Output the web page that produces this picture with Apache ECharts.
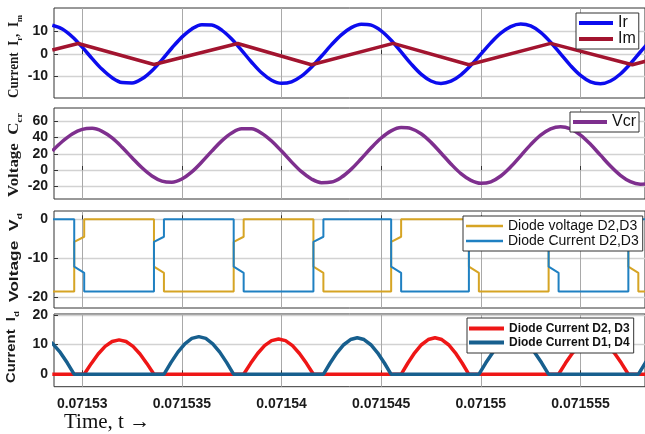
<!DOCTYPE html>
<html><head><meta charset="utf-8">
<script src="https://cdn.jsdelivr.net/npm/echarts@6/dist/echarts.min.js"></script>
<style>html,body{margin:0;padding:0;background:#fff;}#c{width:645px;height:434px;}</style>
</head><body><div id="c"></div>
<script>
// ---------- data ----------
const xTickValues = [0.07153, 0.071535, 0.07154, 0.071545, 0.07155, 0.071555];
const yTicks1 = [-10, 0, 10];
const yTicks2 = [-20, 0, 20, 40, 60];
const yTicks3 = [-20, -10, 0];
const yTicks4 = [0, 10, 20];

const timeSamples = [0.0715285,0.071529,0.0715295,0.07153,0.0715305,0.071531,0.0715315,0.071532,0.0715325,0.071533,
0.0715335,0.071534,0.0715345,0.071535,0.0715355,0.071536,0.0715365,0.071537,0.0715375,0.071538,
0.0715385,0.071539,0.0715395,0.07154,0.0715405,0.071541,0.0715415,0.071542,0.0715425,0.071543,
0.0715435,0.071544,0.0715445,0.071545,0.0715455,0.071546,0.0715465,0.071547,0.0715475,0.071548,
0.0715485,0.071549,0.0715495,0.07155,0.0715505,0.071551,0.0715515,0.071552,0.0715525,0.071553,
0.0715535,0.071554,0.0715545,0.071555,0.0715555,0.071556,0.0715565,0.071557,0.0715575,0.071558,0.0715585];

const irValues = [12.85,11.13,7.70,3.09,-1.99,-6.76,-10.50,-12.64,-12.83,-10.98,
-7.35,-2.52,2.72,7.56,11.21,13.11,12.94,10.68,6.72,1.67,
-3.62,-8.31,-11.59,-12.97,-12.30,-9.78,-5.80,-0.94,4.09,8.56,
11.79,13.31,12.86,10.34,6.15,0.98,-4.32,-8.88,-11.93,-13.0,
-12.0,-9.19,-4.97,0.0,5.0,9.30,12.24,13.39,12.52,9.67,
5.29,0.1,-5.10,-9.47,-12.32,-13.19,-11.96,-8.82,-4.29,0.95,6.04];

const vcrValues = [23.57,35.2,44.5,50.1,51.36,47.68,39.51,28.09,15.14,2.66,
-7.40,-13.68,-15.05,-11.09,-2.33,9.81,23.31,35.96,45.67,50.89,
50.75,45.44,35.81,23.36,10.03,-2.09,-11.09,-15.64,-14.93,-9.05,
1.08,13.91,27.40,39.44,48.24,52.3,51.06,44.65,34.08,21.01,
7.48,-4.46,-12.78,-16.42,-14.56,-7.41,3.88,17.51,31.31,43.01,
50.86,53.5,50.71,43.05,31.69,18.28,4.83,-6.63,-14.46,-17.5,-16.8];

const imTimes = [0.0715285,0.0715298,0.0715336,0.0715378,0.0715415,0.0715456,0.0715494,0.0715535,0.0715576,0.0715585];
const imValues = [1.8,4.7,-4.6,4.7,-4.7,4.8,-4.7,4.8,-4.7,-2.6];

const vdTimes = [0.0715285,
0.0715296,0.0715296,0.0715301,0.0715301,
0.0715336,0.0715336,0.0715341,0.0715341,
0.0715376,0.0715376,0.0715381,0.0715381,
0.0715416,0.0715416,0.0715421,0.0715421,
0.0715455,0.0715455,0.071546,0.071546,
0.0715494,0.0715494,0.0715499,0.0715499,
0.0715534,0.0715534,0.0715539,0.0715539,
0.0715574,0.0715574,0.0715579,0.0715579,
0.0715585];
const diodeVoltageValues = [-18.6,
-18.6,-5.8,-4.5,0, 0,-12.2,-13.8,-18.6,
-18.6,-5.8,-4.5,0, 0,-12.2,-13.8,-18.6,
-18.6,-5.8,-4.5,0, 0,-12.2,-13.8,-18.6,
-18.6,-5.8,-4.5,0, 0,-12.2,-13.8,-18.6,
-18.6];
const diodeCurrentStepValues = [0,
0,-12.2,-13.8,-18.6, -18.6,-5.8,-4.5,0,
0,-12.2,-13.8,-18.6, -18.6,-5.8,-4.5,0,
0,-12.2,-13.8,-18.6, -18.6,-5.8,-4.5,0,
0,-12.2,-13.8,-18.6, -18.6,-5.8,-4.5,0,
0];

const d23Times = [0.0715285,0.0715301,0.07153045,0.0715308,0.07153115,0.0715315,0.07153185,0.0715322,0.07153255,0.0715329,0.07153325,0.0715336,
0.0715381,0.07153845,0.0715388,0.07153915,0.0715395,0.07153985,0.0715402,0.07154055,0.0715409,0.07154125,0.0715416,
0.071546,0.07154634,0.07154668,0.07154702,0.07154736,0.0715477,0.07154804,0.07154838,0.07154872,0.07154906,0.0715494,
0.0715539,0.07155425,0.0715546,0.07155495,0.0715553,0.07155565,0.071556,0.07155635,0.0715567,0.07155705,0.0715574,
0.0715585];
const d23Values = [0,0,3.58,6.82,9.38,11.03,11.6,11.03,9.38,6.82,3.58,0,
0,3.68,7.0,9.63,11.32,11.9,11.32,9.63,7.0,3.68,0,
0,3.8,7.23,9.95,11.7,12.3,11.7,9.95,7.23,3.8,0,
0,3.77,7.17,9.87,11.6,12.2,11.6,9.87,7.17,3.77,0,
0];

const d14Times = [0.0715261,0.07152645,0.0715268,0.07152715,0.0715275,0.07152785,0.0715282,0.07152855,0.0715289,0.07152925,0.0715296,
0.0715341,0.07153445,0.0715348,0.07153515,0.0715355,0.07153585,0.0715362,0.07153655,0.0715369,0.07153725,0.0715376,
0.0715421,0.07154244,0.07154278,0.07154312,0.07154346,0.0715438,0.07154414,0.07154448,0.07154482,0.07154516,0.0715455,
0.0715499,0.07155025,0.0715506,0.07155095,0.0715513,0.07155165,0.071552,0.07155235,0.0715527,0.07155305,0.0715534,
0.0715579,0.07155825,0.0715586,0.07155895];
const d14Values = [0,3.86,7.35,10.11,11.89,12.5,11.89,10.11,7.35,3.86,0,
0,3.92,7.47,10.27,12.08,12.7,12.08,10.27,7.47,3.92,0,
0,3.8,7.23,9.95,11.7,12.3,11.7,9.95,7.23,3.8,0,
0,3.86,7.35,10.11,11.89,12.5,11.89,10.11,7.35,3.86,0,
0,3.86,7.35,10.11];

// ---------- chart ----------
const X_MIN = 0.071528585, X_MAX = 0.071558235;
const zip = (xs, ys) => xs.map((x, i) => [x, ys[i]]);
const chart = echarts.init(document.getElementById('c'), null, {renderer: 'canvas'});

const gridDefs = [
  {top: 8, height: 90, yMin: -19.5, yMax: 20.5, ticks: yTicks1},
  {top: 108, height: 91, yMin: -35.8, yMax: 76.5, ticks: yTicks2},
  {top: 211, height: 97, yMin: -22.86, yMax: 2.14, ticks: yTicks3},
  {top: 314, height: 72.7, yMin: -4.18, yMax: 20.3, ticks: yTicks4}
];

const grid = gridDefs.map(g => ({left: 54, right: -2, top: g.top, height: g.height,
  show: true, backgroundColor: '#fff', borderColor: '#333', borderWidth: 1}));

const xAxis = gridDefs.map((g, i) => ({
  gridIndex: i, type: 'value', min: X_MIN, max: X_MAX,
  axisLine: {show: false},
  axisTick: {show: true, inside: true, length: 4, customValues: xTickValues, lineStyle: {color: '#333'}},
  axisLabel: {show: i === 3, customValues: xTickValues, margin: 10,
    formatter: v => String(+v.toFixed(6)),
    fontFamily: 'Liberation Sans', fontWeight: 'bold', fontSize: 14, color: '#1a1a1a'},
  splitLine: {show: true, lineStyle: {color: '#a9a9a9', width: 1}}
}));

const yAxis = gridDefs.map((g, i) => ({
  gridIndex: i, type: 'value', min: g.yMin, max: g.yMax,
  axisLine: {show: false},
  axisTick: {show: true, inside: true, length: 4, customValues: g.ticks, lineStyle: {color: '#333'}},
  axisLabel: {customValues: g.ticks, margin: 6, formatter: v => String(v),
    fontFamily: 'Liberation Sans', fontWeight: 'bold', fontSize: 14, color: '#1a1a1a'},
  splitLine: {show: true, lineStyle: {color: '#d2d2d2', width: 1.3}}
}));

function line(name, idx, data, color, width, smooth) {
  return {name, type: 'line', xAxisIndex: idx, yAxisIndex: idx, data,
    showSymbol: false, symbol: 'none', smooth: smooth ? 0.35 : false,
    lineStyle: {color, width}, itemStyle: {color}, animation: false, clip: true};
}

const series = [
  line('Ir', 0, zip(timeSamples, irValues), '#0c0cee', 3.5, true),
  line('Im', 0, zip(imTimes, imValues), '#a2142f', 3.5, false),
  line('Vcr', 1, zip(timeSamples, vcrValues), '#7e2f8e', 3.5, true),
  line('Diode voltage D2,D3', 2, zip(vdTimes, diodeVoltageValues), '#d6a424', 2, false),
  line('Diode Current D2,D3', 2, zip(vdTimes, diodeCurrentStepValues), '#1f80c2', 2, false),
  line('Diode Current D2, D3', 3, zip(d23Times, d23Values), '#ee1616', 3.5, false),
  line('Diode Current D1, D4', 3, zip(d14Times, d14Values), '#175f8e', 3.5, false)
];

const legendBase = {orient: 'vertical', icon: 'rect', backgroundColor: '#fff',
  borderColor: '#333', borderWidth: 1, borderRadius: 0, selectedMode: false};
const legend = [
  Object.assign({}, legendBase, {data: ['Ir', 'Im'], left: 576, top: 13, padding: [2, 3, 2, 3],
    itemGap: 0, itemWidth: 34, itemHeight: 4,
    textStyle: {fontSize: 16, lineHeight: 16, fontFamily: 'Liberation Sans Narrow, Liberation Sans', color: '#111'}}),
  Object.assign({}, legendBase, {data: ['Vcr'], left: 570, top: 112, padding: [2, 3, 2, 3],
    itemGap: 0, itemWidth: 34, itemHeight: 4,
    textStyle: {fontSize: 16, lineHeight: 16, fontFamily: 'Liberation Sans Narrow, Liberation Sans', color: '#111'}}),
  Object.assign({}, legendBase, {data: ['Diode voltage D2,D3', 'Diode Current D2,D3'], left: 463, top: 216,
    padding: [3, 4, 3, 3], itemGap: 1, itemWidth: 37, itemHeight: 2.5,
    textStyle: {fontSize: 14, lineHeight: 14, fontFamily: 'Liberation Sans', color: '#111'}}),
  Object.assign({}, legendBase, {data: ['Diode Current D2, D3', 'Diode Current D1, D4'], left: 467, top: 318,
    padding: [4, 4, 4, 2], itemGap: 1, itemWidth: 35, itemHeight: 4,
    textStyle: {fontSize: 12, lineHeight: 13, fontWeight: 'bold', fontFamily: 'Liberation Sans', color: '#111'}})
];

// rotated axis titles with real subscripts, laid out as a group of text pieces
const mctx = document.createElement('canvas').getContext('2d');
function yName(cx, cy, span, parts, family, size) {
  const subSize = Math.round(size * 0.64);
  const fontOf = (sub) => 'bold ' + (sub ? subSize : size) + 'px "' + family + '"';
  const widths = parts.map(p => { mctx.font = fontOf(p[1]); return mctx.measureText(p[0]).width; });
  const total = widths.reduce((a, b) => a + b, 0);
  let x = -total / 2;
  const children = parts.map((p, i) => {
    const el = {type: 'text', x: x, y: p[1] ? size * 0.42 : 0,
      style: {text: p[0], font: fontOf(p[1]), fill: '#1a1a1a', align: 'left', verticalAlign: 'middle'}};
    x += widths[i];
    return el;
  });
  return {type: 'group', x: cx, y: cy, rotation: Math.PI / 2, scaleX: span / total, z: 10, children};
}

const graphic = [
  yName(14, 56.5, 83, [['Current  I', 0], ['r', 1], [',  I', 0], ['m', 1]], 'Liberation Serif', 14),
  yName(14, 155, 84, [['Voltage  C', 0], ['cr', 1]], 'Liberation Serif', 14),
  yName(14, 257.5, 89, [['Voltage  V', 0], ['d', 1]], 'Liberation Sans', 13),
  yName(12, 347, 72, [['Current  I', 0], ['d', 1]], 'Liberation Sans', 12),
  {type: 'text', x: 64, y: 422, z: 10,
    style: {text: 'Time, t \u2192', fontFamily: 'Liberation Serif', fontSize: 21, fill: '#111', verticalAlign: 'middle'}}
];

chart.setOption({animation: false, backgroundColor: '#fff', grid, xAxis, yAxis, series, legend, graphic});
</script></body></html>
